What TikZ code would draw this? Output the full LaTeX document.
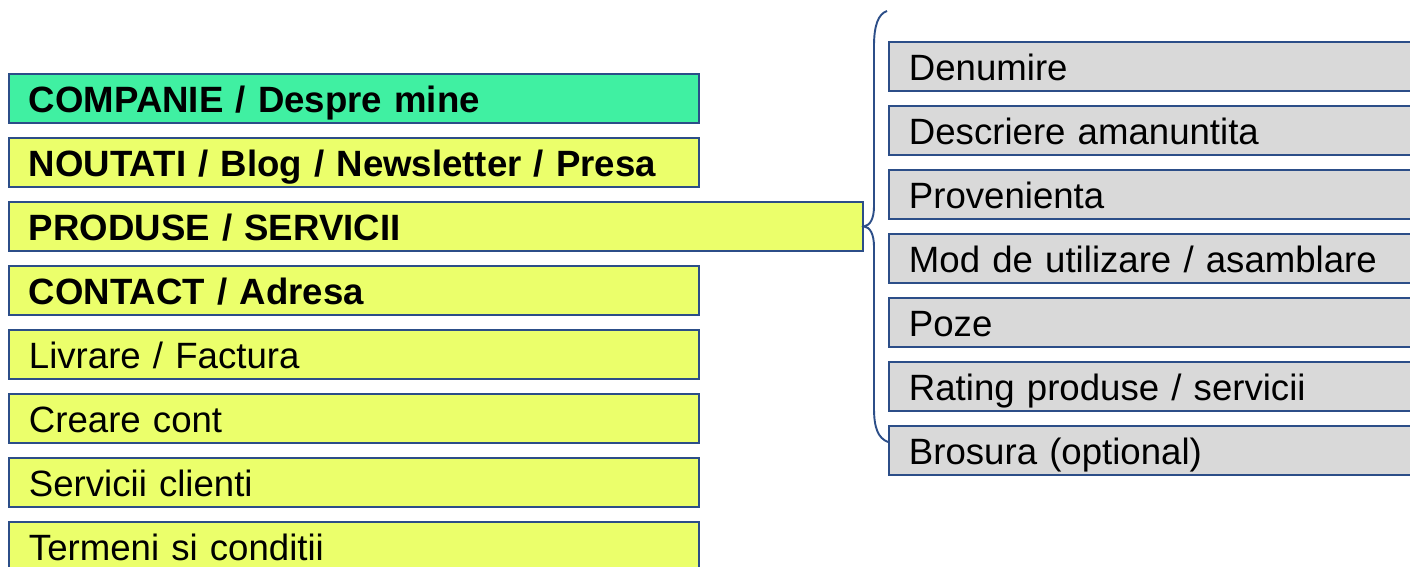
\documentclass[tikz,border=0pt]{standalone}
\usepackage{fontspec}
\setmainfont{Liberation Sans}
\definecolor{bordc}{RGB}{44,78,136}
\definecolor{greenf}{RGB}{64,240,162}
\definecolor{yellowf}{RGB}{235,255,107}
\definecolor{grayf}{RGB}{217,217,217}
\tikzset{
  boxbase/.style={draw=bordc, line width=1.9pt, rectangle, anchor=north west,
    inner xsep=20pt, inner ysep=0pt, text height=39pt, text depth=10pt,
    align=left, font=\fontsize{36.6}{40}\selectfont},
  leftbox/.style={boxbase, fill=yellowf, text width=650pt},
  widebox/.style={boxbase, fill=yellowf, text width=814pt},
  rightbox/.style={boxbase, fill=grayf, text width=500pt},
  bracepath/.style={draw=bordc, line width=1.9pt}
}
\begin{document}
\begin{tikzpicture}[x=1pt,y=-1pt]
\useasboundingbox (0,0) rectangle (1410,567);
\clip (0,0) rectangle (1410,567);
\fill[white] (0,0) rectangle (1410,567);
% left column
\node[leftbox, fill=greenf] (l1) at (8,73) {\bfseries COMPANIE / Despre mine};
\node[leftbox] (l2) at (8,137) {\bfseries NOUTATI / Blog / Newsletter / Presa};
\node[widebox] (l3) at (8,201) {\bfseries PRODUSE / SERVICII};
\node[leftbox] (l4) at (8,265) {\bfseries CONTACT / Adresa};
\node[leftbox] (l5) at (8,329) {Livrare / Factura};
\node[leftbox] (l6) at (8,393) {Creare cont};
\node[leftbox] (l7) at (8,457) {Servicii clienti};
\node[leftbox] (l8) at (8,521) {Termeni si conditii};
% right column
\node[rightbox] (r1) at (888,41) {Denumire};
\node[rightbox] (r2) at (888,105) {Descriere amanuntita};
\node[rightbox] (r3) at (888,169) {Provenienta};
\node[rightbox] (r4) at (888,233) {Mod de utilizare / asamblare};
\node[rightbox] (r5) at (888,297) {Poze};
\node[rightbox] (r6) at (888,361) {Rating produse / servicii};
\node[rightbox] (r7) at (888,425) {Brosura (optional)};
% brace
\coordinate (btop) at (887,11);
\coordinate (bbot) at (888,442);
\draw[bracepath] (btop) .. controls (878,14) and (874,26) .. (874,46)
  -- (874,206) .. controls (874,219) and (870,225.5) .. (l3.east)
  .. controls (870,227) and (874,234) .. (874,247)
  -- (874,408) .. controls (874,428) and (878,438) .. (bbot);
\end{tikzpicture}
\end{document}
